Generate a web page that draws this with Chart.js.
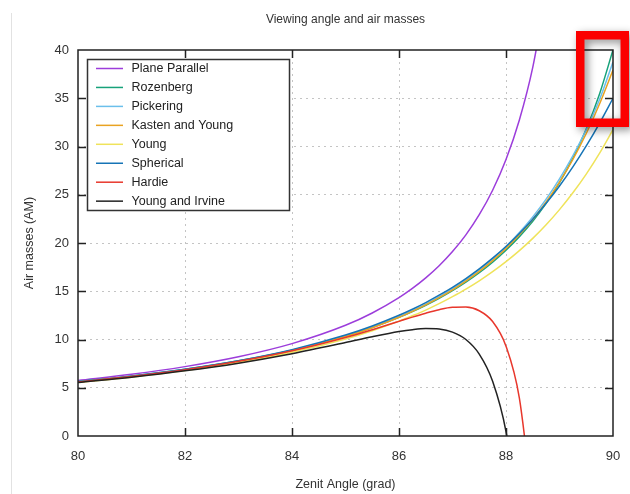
<!DOCTYPE html>
<html>
<head>
<meta charset="utf-8">
<script src="https://cdn.jsdelivr.net/npm/chart.js@4/dist/chart.umd.min.js"></script>
<style>
  html, body { margin: 0; padding: 0; background: #fff; }
  canvas { display: block; }
</style>
</head>
<body>
<canvas id="chart" width="630" height="494"></canvas>
<script>
const angles = [80, 81, 82, 83, 84, 85, 85.5, 86, 86.25, 86.5, 86.75, 87, 87.25, 87.5, 87.75, 88, 88.25, 88.5, 88.75, 89, 89.25, 89.5, 89.75, 90];

const planeParallel = [5.76, 6.39, 7.19, 8.21, 9.57, 11.47, 12.75, 14.34, 15.29, 16.38, 17.64, 19.11, 20.84, 22.93, 25.47, 28.65, 32.75, 38.20, 45.84, null, null, null, null, null];
const rozenberg = [5.64, 6.22, 6.92, 7.79, 8.89, 10.34, 11.24, 12.29, 12.89, 13.55, 14.27, 15.06, 15.94, 16.92, 18.02, 19.26, 20.66, 22.26, 24.11, 26.26, 28.79, 31.81, 35.47, 40.00];
const pickering = [5.58, 6.15, 6.86, 7.73, 8.85, 10.33, 11.26, 12.36, 12.99, 13.67, 14.43, 15.26, 16.19, 17.21, 18.36, 19.64, 21.09, 22.71, 24.55, 26.65, 29.03, 31.75, 34.89, 38.75];
const kastenYoung = [5.59, 6.16, 6.86, 7.73, 8.84, 10.31, 11.22, 12.30, 12.92, 13.59, 14.33, 15.15, 16.05, 17.06, 18.18, 19.43, 20.85, 22.44, 24.25, 26.31, 28.66, 31.35, 34.43, 37.92];
const young = [5.54, 6.10, 6.78, 7.62, 8.68, 10.06, 10.91, 11.90, 12.46, 13.05, 13.71, 14.44, 15.22, 16.08, 17.03, 18.07, 19.21, 20.48, 21.89, 23.46, 25.20, 27.14, 29.31, 31.74];
const spherical = [5.62, 6.20, 6.91, 7.80, 8.95, 10.46, 11.40, 12.51, 13.14, 13.83, 14.59, 15.41, 16.32, 17.32, 18.43, 19.64, 20.99, 22.47, 24.11, 25.91, 27.89, 30.06, 32.43, 35.00];
const hardie = [5.60, 6.17, 6.87, 7.74, 8.83, 10.21, 11.02, 11.88, 12.32, 12.73, 13.09, 13.33, 13.36, 12.98, 11.86, 9.31, 3.93, -7.46, null, null, null, null, null, null];
const youngIrvine = [5.54, 6.09, 6.75, 7.55, 8.53, 9.68, 10.28, 10.82, 11.02, 11.13, 11.08, 10.76, 10.00, 8.49, 5.67, 0.46, -9.35, null, null, null, null, null, null, null];

const xTicks = [80, 82, 84, 86, 88, 90];
const yTicks = [0, 5, 10, 15, 20, 25, 30, 35, 40];

const series = [
    { label: 'Plane Parallel', values: planeParallel, color: '#9c3ddb' },
    { label: 'Rozenberg', values: rozenberg, color: '#17a27a' },
    { label: 'Pickering', values: pickering, color: '#6bbfeb' },
    { label: 'Kasten and Young', values: kastenYoung, color: '#e9a322' },
    { label: 'Young', values: young, color: '#efe35a' },
    { label: 'Spherical', values: spherical, color: '#1674b6' },
    { label: 'Hardie', values: hardie, color: '#e8372c' },
    { label: 'Young and Irvine', values: youngIrvine, color: '#222222' }
];

const FONT = '"Liberation Sans", Arial, sans-serif';

const datasets = series.map((s, i) => ({
    label: s.label,
    data: angles.map((a, j) => ({ x: a, y: s.values[j] })).filter(p => p.y !== null),
    borderColor: s.color,
    backgroundColor: s.color,
    borderWidth: 1.5,
    pointRadius: 0,
    fill: false,
    cubicInterpolationMode: 'monotone',
    order: series.length - i,
    clip: 0
}));

// frame, inward ticks, legend box, texts and the red highlight box
const decorations = {
    id: 'decorations',
    afterDatasetsDraw(chart) {
        const ctx = chart.ctx;
        const a = chart.chartArea;
        const xs = chart.scales.x, ys = chart.scales.y;
        ctx.save();

        // frame
        ctx.strokeStyle = '#222';
        ctx.lineWidth = 1.5;
        ctx.strokeRect(a.left, a.top, a.right - a.left, a.bottom - a.top);

        // inward ticks on all four sides
        ctx.lineWidth = 1.5;
        ctx.beginPath();
        xTicks.slice(1, -1).forEach(v => {
            const px = Math.round(xs.getPixelForValue(v)) + 0.5;
            ctx.moveTo(px, a.bottom); ctx.lineTo(px, a.bottom - 8);
            ctx.moveTo(px, a.top); ctx.lineTo(px, a.top + 8);
        });
        yTicks.slice(1, -1).forEach(v => {
            const py = Math.round(ys.getPixelForValue(v)) + 0.5;
            ctx.moveTo(a.left, py); ctx.lineTo(a.left + 8, py);
            ctx.moveTo(a.right, py); ctx.lineTo(a.right - 8, py);
        });
        ctx.stroke();

        // legend
        const lx = 87.5, ly = 59.5, lw = 202, lh = 151;
        ctx.fillStyle = '#fff';
        ctx.fillRect(lx, ly, lw, lh);
        ctx.strokeStyle = '#333';
        ctx.lineWidth = 1.5;
        ctx.strokeRect(lx, ly, lw, lh);
        ctx.font = '12.5px ' + FONT;
        ctx.textBaseline = 'middle';
        ctx.textAlign = 'left';
        chart.data.datasets.forEach((ds, i) => {
            const y = 68.5 + i * 18.95;
            ctx.strokeStyle = ds.borderColor;
            ctx.lineWidth = 1.5;
            ctx.beginPath();
            ctx.moveTo(96, y); ctx.lineTo(123, y);
            ctx.stroke();
            ctx.fillStyle = '#222';
            ctx.fillText(ds.label, 131.5, y + 0.5);
        });

        // titles
        const cx = (a.left + a.right) / 2;
        ctx.fillStyle = '#333';
        ctx.textAlign = 'center';
        ctx.font = '12px ' + FONT;
        ctx.fillText('Viewing angle and air masses', cx, 20);
        ctx.font = '12.5px ' + FONT;
        ctx.fillText('Zenit Angle (grad)', cx, 485);
        ctx.save();
        ctx.translate(30, (a.top + a.bottom) / 2);
        ctx.rotate(-Math.PI / 2);
        ctx.fillText('Air masses (AM)', 0, 0);
        ctx.restore();

        // faint page edge on the left
        ctx.strokeStyle = '#e2e2e2';
        ctx.lineWidth = 1;
        ctx.beginPath();
        ctx.moveTo(11.5, 13); ctx.lineTo(11.5, 494);
        ctx.stroke();

        // red highlight box
        ctx.shadowColor = 'rgba(0,0,0,0.45)';
        ctx.shadowBlur = 9;
        ctx.shadowOffsetX = 3;
        ctx.shadowOffsetY = 3;
        ctx.strokeStyle = '#fb0000';
        ctx.lineWidth = 8.5;
        ctx.strokeRect(580.25, 35.25, 44.5, 87.5);
        ctx.restore();
    }
};

new Chart(document.getElementById('chart'), {
    type: 'line',
    data: { datasets: datasets },
    options: {
        responsive: false,
        animation: false,
        devicePixelRatio: 1,
        layout: { padding: { top: 50, right: 17, left: 0, bottom: 0 } },
        plugins: {
            legend: { display: false },
            title: { display: false },
            tooltip: { enabled: false }
        },
        scales: {
            x: {
                type: 'linear',
                min: 80,
                max: 90,
                afterFit: (scale) => {
                    scale.height = 58;
                    scale.paddingLeft = 0;
                    scale.paddingRight = 0;
                },
                afterBuildTicks: (scale) => { scale.ticks = xTicks.map(v => ({ value: v })); },
                ticks: { color: '#333', padding: 13, font: { size: 13, family: FONT } },
                grid: {
                    drawTicks: false,
                    color: '#c4c4c4',
                    lineWidth: (c) => (c.tick && (c.tick.value === 80 || c.tick.value === 90)) ? 0 : 1
                },
                border: { display: false, dash: [2, 4] }
            },
            y: {
                type: 'linear',
                min: 0,
                max: 40,
                afterFit: (scale) => {
                    scale.width = 78;
                    scale.paddingTop = 0;
                    scale.paddingBottom = 0;
                },
                afterBuildTicks: (scale) => { scale.ticks = yTicks.map(v => ({ value: v })); },
                ticks: { color: '#333', padding: 9, font: { size: 13, family: FONT } },
                grid: {
                    drawTicks: false,
                    color: '#c4c4c4',
                    lineWidth: (c) => (c.tick && (c.tick.value === 0 || c.tick.value === 40)) ? 0 : 1
                },
                border: { display: false, dash: [2, 4] }
            }
        }
    },
    plugins: [decorations]
});
</script>
</body>
</html>
